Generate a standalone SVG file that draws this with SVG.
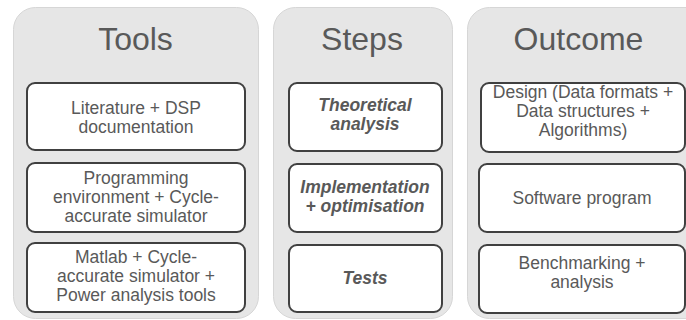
<svg xmlns="http://www.w3.org/2000/svg" width="686" height="320" viewBox="0 0 686 320">
  <style>
    .panel { fill: #e6e6e6; stroke: #d6d6d6; stroke-width: 1; }
    .box { fill: #ffffff; stroke: #404040; stroke-width: 2; }
    .title { font-family: "Liberation Sans", Arial, sans-serif; font-size: 32px; fill: #595959; text-anchor: middle; }
    .txt { font-family: "Liberation Sans", Arial, sans-serif; font-size: 17.5px; fill: #595959; text-anchor: middle; }
    .step { font-family: "Liberation Sans", Arial, sans-serif; font-size: 17.5px; font-weight: bold; font-style: italic; fill: #595959; text-anchor: middle; }
  </style>
  <rect width="686" height="320" fill="#ffffff"/>

  <!-- Column: Tools -->
  <g id="tools">
    <rect class="panel" x="13.5" y="7.5" width="245" height="311" rx="22"/>
    <text class="title" x="135.5" y="50">Tools</text>
    <g id="tools-literature">
      <rect class="box" x="27" y="83" width="218" height="67" rx="8"/>
      <text class="txt" x="136" y="113.5">Literature + DSP</text>
      <text class="txt" x="136" y="132.5">documentation</text>
    </g>
    <g id="tools-programming">
      <rect class="box" x="27" y="163" width="218" height="69" rx="8"/>
      <text class="txt" x="136" y="184">Programming</text>
      <text class="txt" x="136" y="203">environment + Cycle-</text>
      <text class="txt" x="136" y="222">accurate simulator</text>
    </g>
    <g id="tools-matlab">
      <rect class="box" x="27" y="243" width="218" height="69" rx="8"/>
      <text class="txt" x="136" y="263">Matlab + Cycle-</text>
      <text class="txt" x="136" y="282">accurate simulator +</text>
      <text class="txt" x="136" y="301">Power analysis tools</text>
    </g>
  </g>

  <!-- Column: Steps -->
  <g id="steps">
    <rect class="panel" x="273.5" y="7.5" width="179" height="311" rx="22"/>
    <text class="title" x="362" y="50">Steps</text>
    <g id="step-theory">
      <rect class="box" x="289" y="83" width="153" height="68" rx="8"/>
      <text class="step" x="365" y="110.5">Theoretical</text>
      <text class="step" x="365" y="129.5">analysis</text>
    </g>
    <g id="step-implementation">
      <rect class="box" x="289" y="164" width="153" height="68" rx="8"/>
      <text class="step" x="365" y="193">Implementation</text>
      <text class="step" x="365" y="212">+ optimisation</text>
    </g>
    <g id="step-tests">
      <rect class="box" x="289" y="245" width="153" height="67" rx="8"/>
      <text class="step" x="365" y="284">Tests</text>
    </g>
  </g>

  <!-- Column: Outcome -->
  <g id="outcome">
    <rect class="panel" x="467.5" y="7.5" width="245" height="311" rx="22"/>
    <text class="title" x="578.5" y="50">Outcome</text>
    <g id="outcome-design">
      <rect class="box" x="481" y="83" width="204" height="69" rx="8"/>
      <text class="txt" x="583" y="97.5">Design (Data formats +</text>
      <text class="txt" x="583" y="116.5">Data structures +</text>
      <text class="txt" x="583" y="135.5">Algorithms)</text>
    </g>
    <g id="outcome-software">
      <rect class="box" x="479" y="164" width="206" height="68" rx="8"/>
      <text class="txt" x="582" y="204">Software program</text>
    </g>
    <g id="outcome-benchmark">
      <rect class="box" x="479" y="245" width="206" height="68" rx="8"/>
      <text class="txt" x="582" y="269">Benchmarking +</text>
      <text class="txt" x="582" y="288">analysis</text>
    </g>
  </g>
</svg>
